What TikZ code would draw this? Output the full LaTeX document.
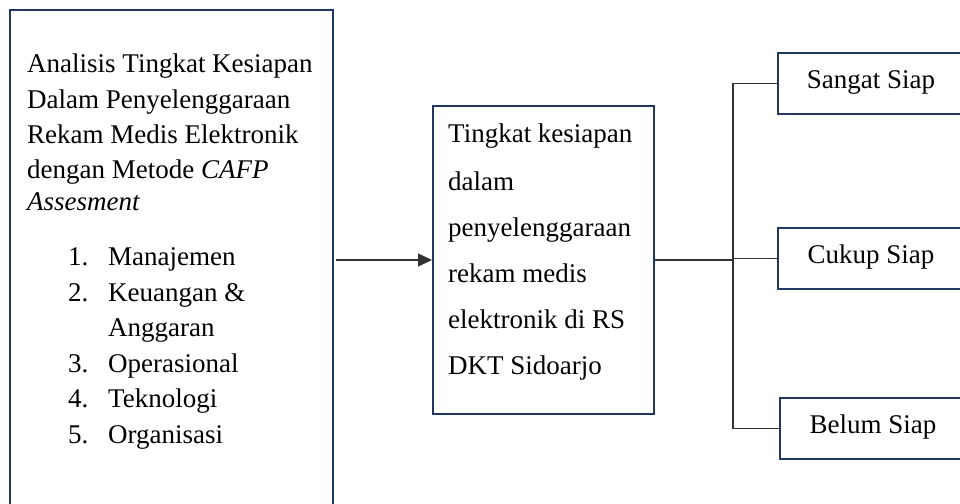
\documentclass[tikz,border=0pt]{standalone}
\usepackage{fontspec}
\setmainfont{Liberation Serif}
\usetikzlibrary{arrows.meta}
\definecolor{navy}{HTML}{1F3864}
\begin{document}
\begin{tikzpicture}[x=1pt,y=-1pt,
  box/.style={draw=navy, line width=2pt, inner sep=0pt},
  txt/.style={font=\fontsize{27}{36}\selectfont, anchor=base west, inner sep=0pt},
  ctxt/.style={font=\fontsize{27}{36}\selectfont, anchor=base, inner sep=0pt},
  conn/.style={draw=black!80, line width=1.3pt}]
\useasboundingbox (0,0) rectangle (960,503);
\fill[white] (0,0) rectangle (960,503);
\clip (0,0) rectangle (960,503);
% left box
\node[box, minimum width=323pt, minimum height=520pt, anchor=north west] (left) at (9,9) {};
\node[txt] (l1) at (27,72) {Analisis Tingkat Kesiapan};
\node[txt] (l2) at (27,108) {Dalam Penyelenggaraan};
\node[txt] (l3) at (27,143) {Rekam Medis Elektronik};
\node[txt] (l4) at (27,178) {dengan Metode \textit{CAFP}};
\node[txt] (l5) at (27,210) {\textit{Assesment}};
\node[txt] (n1) at (68,265) {1.};
\node[txt] (t1) at (108,265) {Manajemen};
\node[txt] (n2) at (68,301) {2.};
\node[txt] (t2) at (108,301) {Keuangan \&};
\node[txt] (t2b) at (108,336) {Anggaran};
\node[txt] (n3) at (68,372) {3.};
\node[txt] (t3) at (108,372) {Operasional};
\node[txt] (n4) at (68,407) {4.};
\node[txt] (t4) at (108,407) {Teknologi};
\node[txt] (n5) at (68,443) {5.};
\node[txt] (t5) at (108,443) {Organisasi};
% middle box
\node[box, minimum width=221pt, minimum height=308pt, anchor=north west] (mid) at (432,105) {};
\node[txt] (m1) at (448,142) {Tingkat kesiapan};
\node[txt] (m2) at (448,190) {dalam};
\node[txt] (m3) at (448,236) {penyelenggaraan};
\node[txt] (m4) at (448,282) {rekam medis};
\node[txt] (m5) at (448,328) {elektronik di RS};
\node[txt] (m6) at (448,374) {DKT Sidoarjo};
% right boxes
\node[box, minimum width=190pt, minimum height=61pt, anchor=north west] (sangat) at (777,52) {};
\node[ctxt] (st) at (871,88) {Sangat Siap};
\node[box, minimum width=190pt, minimum height=61pt, anchor=north west] (cukup) at (777,227) {};
\node[ctxt] (ct) at (871,263) {Cukup Siap};
\node[box, minimum width=190pt, minimum height=61pt, anchor=north west] (belum) at (779,397) {};
\node[ctxt] (bt) at (873,433) {Belum Siap};
% connectors
\coordinate (j) at (733,0 |- mid.east);
\draw[conn, -{Triangle[length=14pt,width=13pt]}, shorten <=2pt] (left.east |- mid.west) -- (mid.west);
\draw[conn] (mid.east) -- (j);
\draw[conn] (j) |- (sangat.west);
\draw[conn] (j) |- (cukup.west);
\draw[conn] (j) |- (belum.west);
\end{tikzpicture}
\end{document}
